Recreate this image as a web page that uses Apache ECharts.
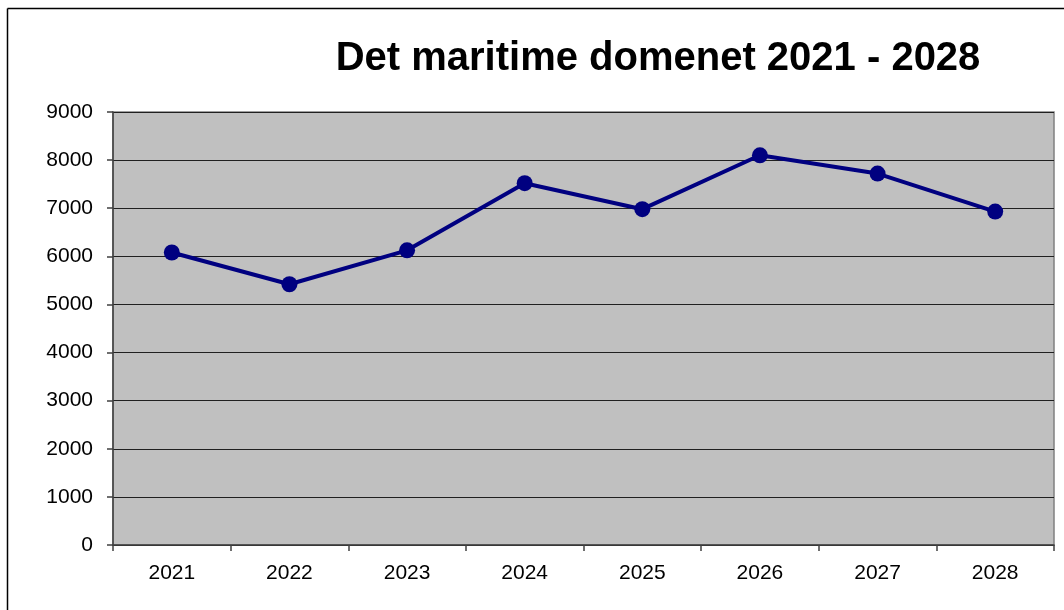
<!DOCTYPE html>
<html>
<head>
<meta charset="utf-8">
<script src="https://cdn.jsdelivr.net/npm/echarts@6/dist/echarts.min.js"></script>
<style>
html,body{margin:0;padding:0;background:#fff;}
#chart{width:1064px;height:610px;}
</style>
</head>
<body>
<div id="chart"></div>
<script>
const titleText = 'Det maritime domenet 2021 - 2028';
const categories = ['2021','2022','2023','2024','2025','2026','2027','2028'];
const values = [6080, 5420, 6125, 7520, 6980, 8100, 7720, 6930];
const yTicks = [0,1000,2000,3000,4000,5000,6000,7000,8000,9000];

const chart = echarts.init(document.getElementById('chart'), null, {renderer:'canvas'});
chart.setOption({
  animation: false,
  backgroundColor: '#ffffff',
  title: {
    text: titleText,
    left: 653, top: 34, textAlign: 'center',
    textStyle: {fontFamily: 'Liberation Sans, Arial', fontWeight: 'bold', fontSize: 40, color: '#000'}
  },
  graphic: [
    {type:'line', shape:{x1:7.5,y1:8.5,x2:1070,y2:8.5}, style:{stroke:'#000',lineWidth:1.5}},
    {type:'line', shape:{x1:7.5,y1:8.5,x2:7.5,y2:620}, style:{stroke:'#000',lineWidth:1.5}}
  ],
  grid: {
    left: 113, top: 112, right: 10, bottom: 65,
    show: true, backgroundColor: '#c0c0c0', borderColor: '#808080', borderWidth: 1.5
  },
  xAxis: {
    type: 'category', data: categories, boundaryGap: true,
    axisLine: {show: true, lineStyle: {color: '#404040', width: 1.5}},
    axisTick: {show: true, alignWithLabel: false, length: 6, lineStyle: {color: '#404040', width: 1.5}},
    axisLabel: {color: '#000', fontFamily: 'Liberation Sans, Arial', fontSize: 21, margin: 18}
  },
  yAxis: {
    type: 'value', min: 0, max: 9000, interval: 1000,
    axisLine: {show: true, lineStyle: {color: '#404040', width: 1.5}},
    axisTick: {show: true, length: 6, lineStyle: {color: '#404040', width: 1.5}},
    axisLabel: {color: '#000', fontFamily: 'Liberation Sans, Arial', fontSize: 21, margin: 20,
      formatter: function (v) { return String(v); }},
    splitLine: {show: true, lineStyle: {color: '#202020', width: 1.2}}
  },
  series: [{
    type: 'line', data: values,
    symbol: 'circle', symbolSize: 16,
    lineStyle: {color: '#000080', width: 4},
    itemStyle: {color: '#000080'}
  }]
});
</script>
</body>
</html>
